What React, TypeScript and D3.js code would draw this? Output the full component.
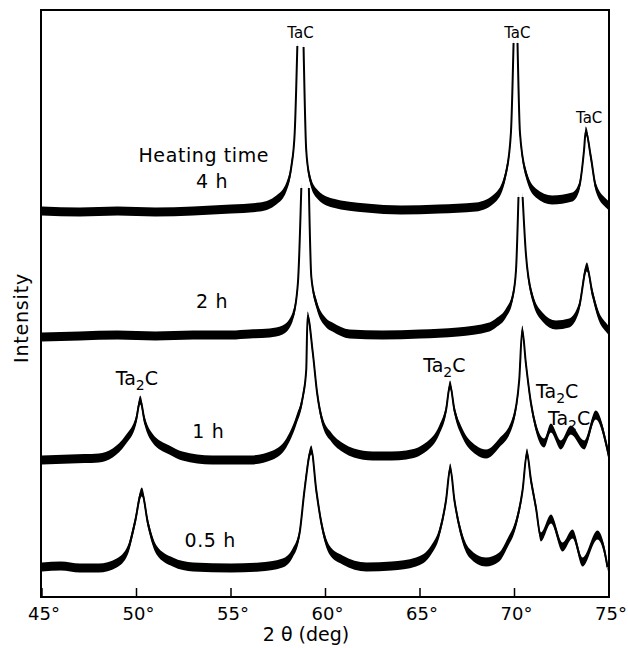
import React from "react";
import * as d3 from "d3";

// 2θ (deg) vs stacked intensity (arbitrary units). null = pen break at off-scale peak tops
type Pt = [number, number | null];

const trace4h: Pt[] = [
  [45, 386], [47, 385], [49, 386], [51, 385], [53, 386], [55, 388], [56.52, 390],
  [57.4, 397], [57.93, 410], [58.19, 430], [58.37, 464], [58.51, 551], [58.66, null],
  [58.84, 550], [58.98, 447], [59.16, 420], [59.51, 404], [60.37, 394], [62.15, 389],
  [64, 387], [66, 388], [67.96, 390], [69.02, 400], [69.55, 424], [69.81, 464],
  [69.95, 554], [70.05, null], [70.16, 554], [70.29, 464], [70.6, 424], [71.13, 404],
  [71.99, 397], [73.05, 400], [73.42, 410], [73.68, 447], [73.77, 466], [74.04, 440],
  [74.3, 410], [74.83, 394], [75, 391],
];

const trace2h: Pt[] = [
  [45, 260], [47, 261], [49, 262], [51, 261], [53, 262], [55, 262], [56, 263],
  [57.04, 264], [57.73, 267], [58.26, 280], [58.54, 314], [58.72, 409], [58.92, null],
  [59.12, 409], [59.25, 320], [59.51, 294], [60.04, 274], [60.37, 270], [61.27, 263],
  [63, 262], [65, 263], [67, 265], [68.67, 270], [69.02, 274], [69.55, 284],
  [69.9, 300], [70.08, 327], [70.21, 400], [70.32, null], [70.43, 400], [70.6, 344],
  [70.95, 300], [71.48, 280], [72.19, 272], [72.89, 274], [73.42, 290], [73.83, 330],
  [74.12, 304], [74.48, 280], [74.83, 270], [75, 266],
];

const trace1h: Pt[] = [
  [45, 137], [46.5, 138], [48, 139], [48.74, 144], [49.42, 157], [49.98, 177],
  [50.2, 197], [50.42, 177], [50.84, 159], [51.74, 147], [52.43, 141], [54, 137],
  [56, 137], [57.22, 142], [57.93, 154], [58.46, 177], [58.8, 200], [58.98, 227],
  [59.05, 281], [59.33, 244], [59.55, 205], [59.85, 175], [60.3, 160], [60.95, 149],
  [61.5, 144], [62.5, 141], [63.5, 141], [64.27, 142], [65.32, 150], [66.02, 167],
  [66.38, 187], [66.59, 212], [66.82, 187], [67.24, 164], [67.96, 147], [68.5, 143],
  [69.19, 154], [69.88, 174], [70.25, 217], [70.41, 267], [70.6, 234], [70.87, 194],
  [71.13, 170], [71.57, 154], [71.92, 169], [72.45, 152], [72.98, 167], [73.69, 152],
  [74.3, 182], [74.9, 149], [75, 140],
];

const trace05h: Pt[] = [
  [45, 30], [46, 31], [47, 29], [48, 29], [48.95, 34], [49.54, 47], [49.91, 74],
  [50.28, 105], [50.6, 74], [51.06, 47], [51.92, 35], [53, 30], [55, 29], [56.5, 30],
  [57.73, 34], [58.26, 44], [58.63, 64], [58.89, 107], [59.25, 147], [59.51, 107],
  [59.78, 74], [60.21, 47], [60.9, 37], [62.17, 30], [63.5, 31], [64.79, 35],
  [65.59, 47], [66.02, 64], [66.38, 97], [66.6, 129], [66.82, 97], [67.17, 64],
  [67.61, 44], [68.49, 35], [69.19, 40], [69.63, 54], [70.08, 74], [70.43, 107],
  [70.66, 144], [70.87, 117], [71.13, 90], [71.4, 60], [71.93, 78], [72.54, 50],
  [73.07, 63], [73.6, 35], [74.39, 62], [74.75, 47], [74.92, 30],
];

const traces = [trace4h, trace2h, trace1h, trace05h];

const xTicks = [45, 50, 55, 60, 65, 70, 75];

// heating-time captions: [text, 2θ, intensity]
const timeLabels: [string, number, number][] = [
  ["Heating time", 53.56, 435],
  ["4 h", 54.0, 409],
  ["2 h", 54.0, 289],
  ["1 h", 53.8, 159],
  ["0.5 h", 53.9, 50],
];

// phase labels: [2θ, intensity]
const tacLabels: [number, number][] = [
  [58.68, 559],
  [70.15, 559],
  [73.95, 474],
];
const ta2cLabels: [number, number][] = [
  [50.02, 212],
  [66.29, 225],
  [72.26, 199],
  [72.89, 172],
];

const W = 628;
const H = 648;
const left = 42;
const right = 609;
const top = 11;
const bottom = 597;
const font = "DejaVu Sans, sans-serif";

export default function App() {
  const x = d3.scaleLinear().domain([45, 75]).range([left, right]);
  const y = d3.scaleLinear().domain([0, bottom - top]).range([bottom, top]);

  const line = d3
    .line<Pt>()
    .defined((d) => d[1] !== null)
    .curve(d3.curveMonotoneX)
    .x((d) => x(d[0]))
    .y((d) => y(d[1] as number));

  // recorder noise band, vertical spread around the trace
  const band = d3
    .area<Pt>()
    .defined((d) => d[1] !== null)
    .curve(d3.curveMonotoneX)
    .x((d) => x(d[0]))
    .y0((d) => y(d[1] as number) + 4.5)
    .y1((d) => y(d[1] as number) - 4.5);

  return (
    <svg width={W} height={H} style={{ position: "absolute", left: 0, top: 0, background: "#fff" }}>
      <rect x={left - 1} y={top - 1} width={right - left + 1} height={bottom - top + 1}
        fill="none" stroke="#000" strokeWidth={2} />

      {xTicks.map((t) => (
        <g key={t}>
          <line x1={x(t)} x2={x(t)} y1={bottom} y2={bottom - 9} stroke="#000" strokeWidth={1.5} />
          <text x={x(t) + 2} y={620} textAnchor="middle" fontFamily={font} fontSize={18}>
            {t}°
          </text>
        </g>
      ))}

      <text x={306} y={641} textAnchor="middle" fontFamily={font} fontSize={19}>
        2 θ (deg)
      </text>
      <text transform="translate(28,318) rotate(-90)" textAnchor="middle"
        fontFamily={font} fontSize={19} letterSpacing={0.8}>
        Intensity
      </text>

      {traces.map((tr, i) => (
        <g key={i}>
          <path d={band(tr) ?? ""} fill="#000" />
          <path d={line(tr) ?? ""} fill="none" stroke="#000" strokeWidth={2} />
        </g>
      ))}

      {timeLabels.map(([s, a, v]) => (
        <text key={s} x={x(a)} y={y(v)} textAnchor="middle" fontFamily={font} fontSize={19}
          letterSpacing={0.6}>
          {s}
        </text>
      ))}

      {tacLabels.map(([a, v], i) => (
        <text key={"tac" + i} x={x(a)} y={y(v)} textAnchor="middle" fontFamily={font}
          fontSize={15}>
          TaC
        </text>
      ))}

      {ta2cLabels.map(([a, v], i) => (
        <text key={"ta2c" + i} x={x(a)} y={y(v)} textAnchor="middle" fontFamily={font}
          fontSize={19}>
          Ta<tspan dy={5} fontSize={14}>2</tspan><tspan dy={-5}>C</tspan>
        </text>
      ))}
    </svg>
  );
}
